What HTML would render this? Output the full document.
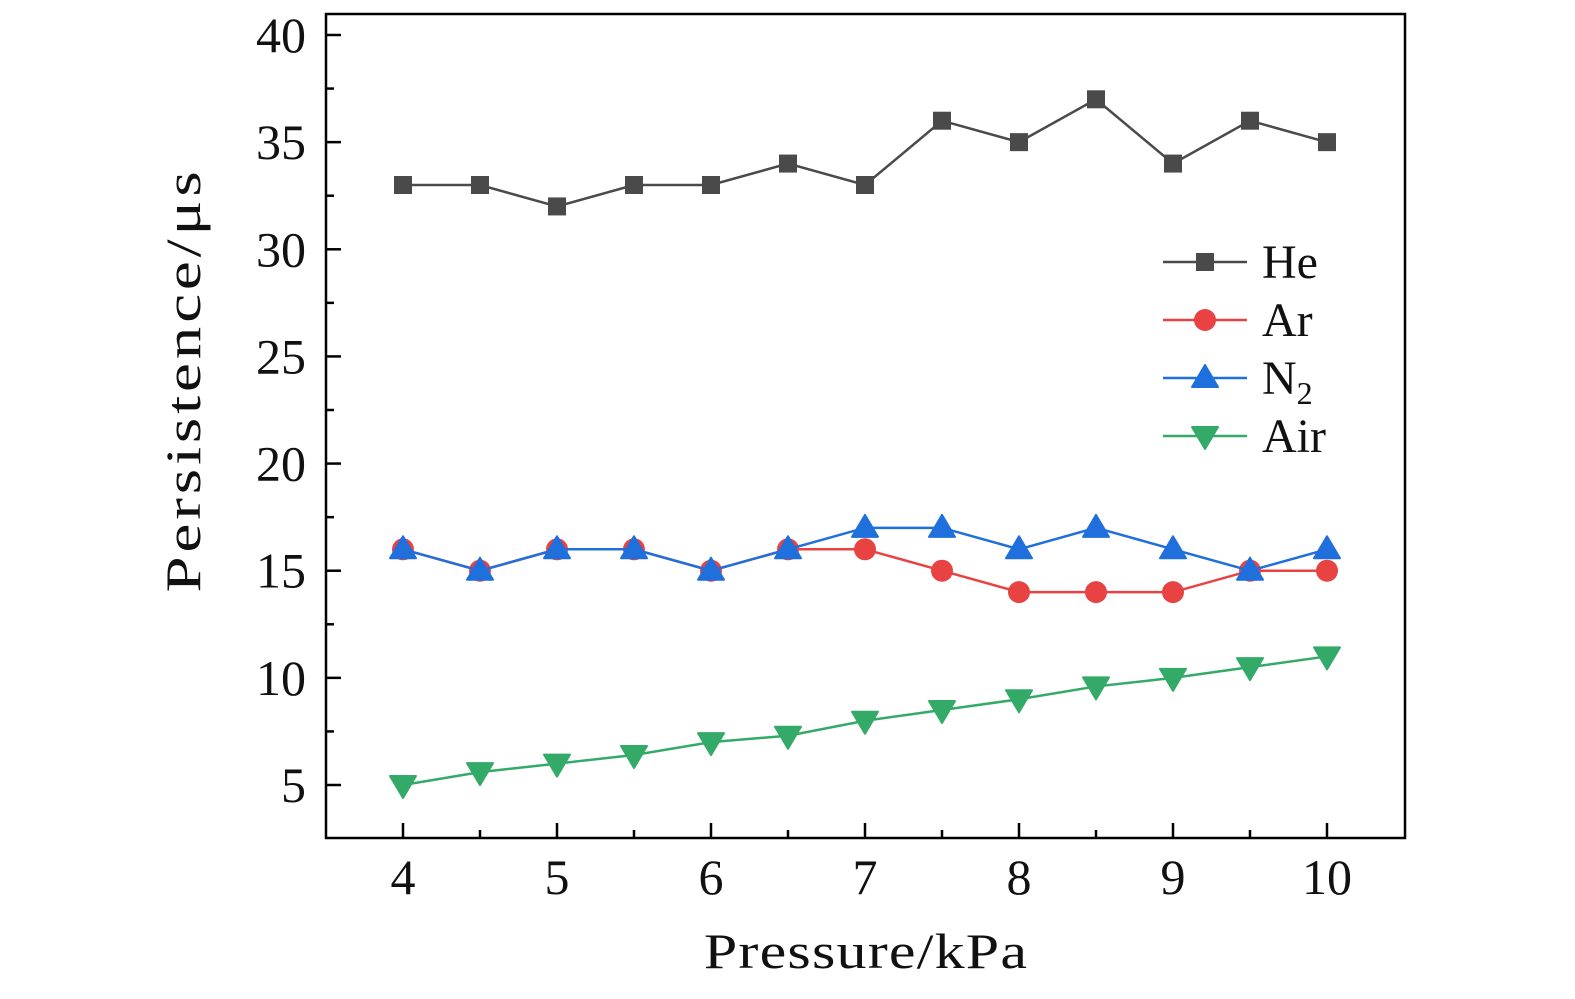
<!DOCTYPE html>
<html><head><meta charset="utf-8"><style>
html,body{margin:0;padding:0;background:#fff}
svg text{font-family:"Liberation Serif","DejaVu Serif",serif;fill:#111}
</style></head><body>
<svg id="chart" width="1575" height="994" xmlns="http://www.w3.org/2000/svg"></svg>
<script>
const xValues=[4,4.5,5,5.5,6,6.5,7,7.5,8,8.5,9,9.5,10];
const heValues=[33,33,32,33,33,34,33,36,35,37,34,36,35];
const arValues=[16,15,16,16,15,16,16,15,14,14,14,15,15];
const n2Values=[16,15,16,16,15,16,17,17,16,17,16,15,16];
const airValues=[5,5.6,6,6.4,7,7.3,8,8.5,9,9.6,10,10.5,11];
const xTicks=[4,5,6,7,8,9,10];
const yTicks=[5,10,15,20,25,30,35,40];
const svg=document.getElementById('chart');
const NS='http://www.w3.org/2000/svg';
const L=326,R=1405,T=14,B=838;
const sx=v=>403+(v-4)*154;
const sy=v=>785-(v-5)*(750/35);
function mk(tag,attrs,parent){const e=document.createElementNS(NS,tag);for(const k in attrs)e.setAttribute(k,attrs[k]);(parent||svg).appendChild(e);return e;}
const frame=mk('rect',{x:L,y:T,width:R-L,height:B-T,fill:'none',stroke:'#000','stroke-width':2.5});


const xg=mk('g',{});


for(let v=4;v<=10;v+=0.5){const major=Number.isInteger(v);mk('line',{x1:sx(v),x2:sx(v),y1:B,y2:B-(major?15:8),stroke:'#000','stroke-width':2.5},xg);}
xTicks.forEach(v=>{const t=mk('text',{x:sx(v),y:894,'font-size':50,'text-anchor':'middle'},xg);t.textContent=v;

});
const yg=mk('g',{});


for(let v=5;v<=40;v+=2.5){const major=v%5===0;mk('line',{x1:L,x2:L+(major?15:8),y1:sy(v),y2:sy(v),stroke:'#000','stroke-width':2.5},yg);}
yTicks.forEach(v=>{const t=mk('text',{x:306,y:sy(v)+17,'font-size':50,'text-anchor':'end'},yg);t.textContent=v;

});
const xt=mk('text',{x:0,y:0,'font-size':50,'letter-spacing':1,'text-anchor':'middle',transform:'translate(866,968) scale(1.2,1)'});xt.textContent='Pressure/kPa';


const yt=mk('text',{x:0,y:0,'font-size':50,'letter-spacing':3,'text-anchor':'middle',transform:'translate(200,380) rotate(-90) scale(1.3,1)'});yt.textContent='Persistence/μs';


function marker(g,type,x,y,c){
 if(type==='sq')mk('rect',{x:x-9,y:y-9,width:18,height:18,fill:c},g);
 else if(type==='ci')mk('circle',{cx:x,cy:y,r:11,fill:c},g);
 else if(type==='up')mk('path',{d:`M${x},${y-13} L${x+13},${y+9} L${x-13},${y+9} Z`,fill:c,'stroke-linejoin':'round',stroke:c,'stroke-width':2},g);
 else mk('path',{d:`M${x},${y+13} L${x+13},${y-9} L${x-13},${y-9} Z`,fill:c,stroke:c,'stroke-width':2,'stroke-linejoin':'round'},g);
}
const series=[['He',heValues,'#4a4a4a','sq'],['Ar',arValues,'#e84242','ci'],['N2',n2Values,'#1f6fdc','up'],['Air',airValues,'#34aa68','dn']];
series.forEach(([name,vals,c,m])=>{
 const g=mk('g',{});
 
 
 mk('polyline',{points:vals.map((v,i)=>sx(xValues[i])+','+sy(v)).join(' '),fill:'none',stroke:c,'stroke-width':2.5},g);
 vals.forEach((v,i)=>marker(g,m,sx(xValues[i]),sy(v),c));
});
const lg=mk('g',{});


const ly=[262,320,378,436];
series.forEach(([name,vals,c,m],i)=>{
 const e=mk('g',{},lg);
 
 
 mk('line',{x1:1163,x2:1247,y1:ly[i],y2:ly[i],stroke:c,'stroke-width':2.5},e);
 marker(e,m,1205,ly[i],c);
 const t=mk('text',{x:1262,y:ly[i]+16,'font-size':48},e);
 if(name==='N2'){t.textContent='N';const s=mk('tspan',{'font-size':32,dy:10},t);s.textContent='2';}
 else t.textContent=name;
});
</script>
</body></html>
